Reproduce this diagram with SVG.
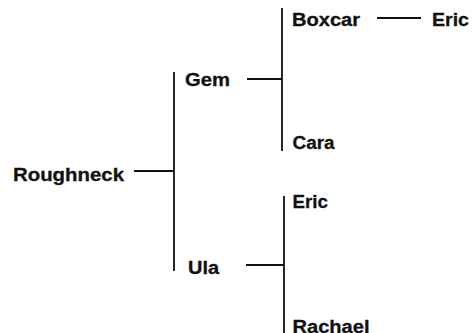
<svg xmlns="http://www.w3.org/2000/svg" width="474" height="333" viewBox="0 0 474 333">
<style>
text{font-family:"Liberation Sans",Arial,sans-serif;font-weight:bold;font-size:18px;fill:#111;stroke:#111;stroke-width:0.3}
.c line{stroke:#111;stroke-width:1.8;fill:none}
</style>
<rect width="474" height="333" fill="#fff"/>
<g class="c" id="connectors">
<line x1="134" y1="171" x2="174" y2="171"/>
<line x1="174" y1="72" x2="174" y2="271"/>
<line x1="247" y1="79" x2="282" y2="79"/>
<line x1="282" y1="8" x2="282" y2="151"/>
<line x1="377" y1="18" x2="421" y2="18"/>
<line x1="246" y1="265" x2="284" y2="265"/>
<line x1="284" y1="196" x2="284" y2="333"/>
</g>
<g id="roughneck"><text x="13" y="181" textLength="111" lengthAdjust="spacingAndGlyphs">Roughneck</text></g>
<g id="gem"><text x="185" y="85.5" textLength="45" lengthAdjust="spacingAndGlyphs">Gem</text></g>
<g id="boxcar"><text x="292" y="26" textLength="68" lengthAdjust="spacingAndGlyphs">Boxcar</text></g>
<g id="eric1"><text x="432" y="26" textLength="37" lengthAdjust="spacingAndGlyphs">Eric</text></g>
<g id="cara"><text x="292.5" y="149" textLength="42" lengthAdjust="spacingAndGlyphs">Cara</text></g>
<g id="ula"><text x="188" y="274" textLength="31" lengthAdjust="spacingAndGlyphs">Ula</text></g>
<g id="eric2"><text x="292.5" y="207.5" textLength="35.5" lengthAdjust="spacingAndGlyphs">Eric</text></g>
<g id="rachael"><text x="292.5" y="333" textLength="77" lengthAdjust="spacingAndGlyphs">Rachael</text></g>
</svg>
